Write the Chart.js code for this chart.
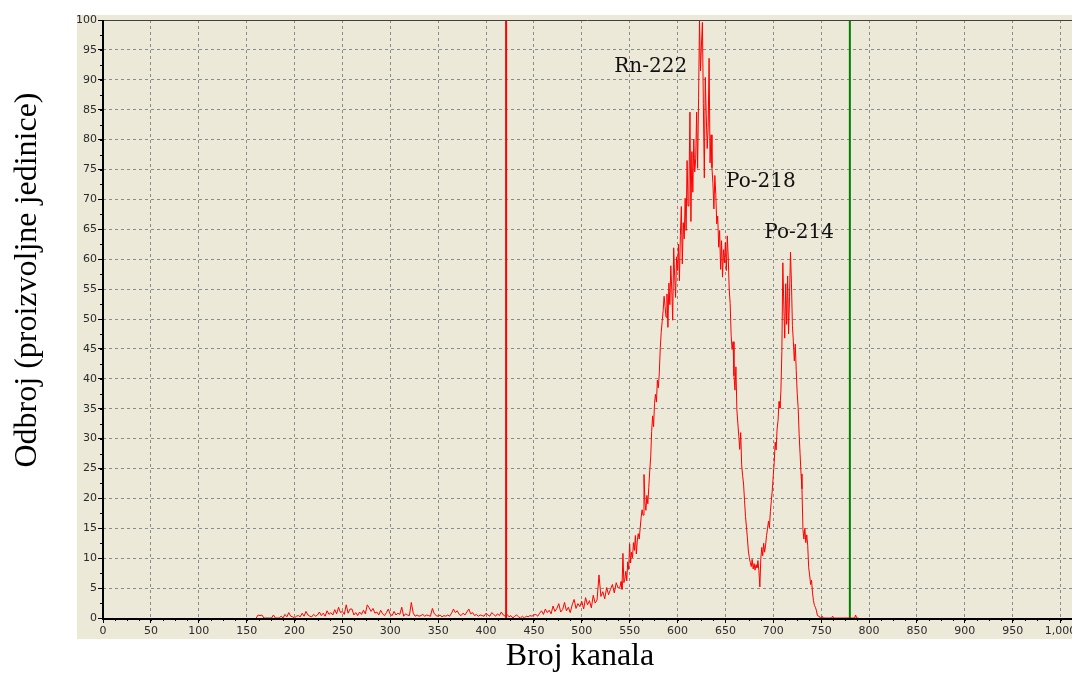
<!DOCTYPE html>
<html lang="sr">
<head>
<meta charset="UTF-8">
<title>Spektar</title>
<script src="https://cdn.jsdelivr.net/npm/chart.js"></script>
<style>
  html, body { margin: 0; padding: 0; background: #fff; }
  canvas { display: block; }
</style>
</head>
<body>
<canvas id="spectrum" width="1072" height="673"></canvas>
<script>
  // low part of the spectrum, every second channel from 160
  const lowStart = 160, lowStep = 2;
  const lowCounts = [
    0, 0.5, 0.4, 0.5, 0, 0, 0, 0, 0, 0.5, 0, 0, 0, 0.3, 0, 0.6, 0.2, 0.9, 0.3, 0.2,
    0, 0.3, 0.4, 0.2, 0.8, 0.3, 1.1, 0.5, 0.3, 0.2, 0.6, 0.3, 0.5, 1.0, 0.4, 0.8, 0.3, 1.2, 0.6, 0.9,
    0.5, 1.4, 0.7, 1.8, 0.9, 1.1, 0.6, 2.2, 0.8, 1.5, 1.5, 0.5, 0.9, 0.4, 1.0, 0.6, 1.3, 0.7, 2.2, 1.7,
    1.1, 1.6, 0.8, 1.0, 0.5, 1.3, 0.7, 0.4, 0.9, 1.5, 0.6, 0.4, 1.1, 0.5, 0.8, 0.6, 1.8, 0.3, 0.7, 0.5,
    0.4, 2.6, 0.8, 0.3, 0.5, 0.3, 0.4, 0.6, 0.3, 0.5, 0.4, 0.3, 1.6, 0.7, 0.4, 0.3, 0.5, 0.2, 0.4, 0.3,
    0.5, 0.3, 0.8, 1.5, 0.9, 1.2, 0.6, 0.4, 0.8, 0.5, 1.0, 1.5, 0.7, 0.9, 0.4, 0.6, 0.3, 0.5, 0.4, 0.3,
    0.8, 0.5, 0.3, 0.9, 0.6, 0.3, 0.7, 0.4, 1.0, 0.5, 0.3, 0.6, 0.2, 0.4, 0, 0.3, 0.5, 0.2, 0, 0.3,
    0, 0.3, 0.2, 0.4, 0.3, 0.5, 0.6, 0.3, 0.8, 1.2, 0.6, 1.5, 0.9, 1.3, 0.7, 2.0, 1.1, 1.6, 2.4, 1.0,
    1.4, 2.6, 1.2, 1.8, 0.9, 2.2, 3.1, 1.6, 2.4, 1.9, 2.8, 1.5, 3.4, 2.2, 2.9, 1.7, 3.8, 2.5, 3.0, 7.2,
    3.6, 4.4, 3.2, 5.1, 3.9, 4.8, 5.6, 4.2, 5.9, 5.0
  ];

  // peak region, one value per channel from 540
  const peakStart = 540;
  const peakCounts = [
    5.2, 6.1, 4.8, 10.8, 5.9, 6.5, 7.8, 6.2, 9.4, 8.1,
    12.4, 9.2, 11.0, 10.1, 12.6, 11.3, 13.8, 10.7, 12.9, 14.1,
    13.2, 15.0, 16.8, 18.1, 17.2, 24.0, 19.4, 18.0, 20.5, 19.1,
    21.8, 24.6, 26.9, 31.2, 33.8, 32.0, 35.9, 37.4, 36.1, 39.8,
    38.5, 41.0, 45.2, 47.8, 49.6, 51.4, 53.8, 52.1, 50.3, 54.2,
    48.6, 56.0, 52.4, 58.9, 55.0, 49.8, 61.9, 57.2, 53.6, 60.4,
    58.1, 62.5, 56.4, 64.0, 68.8, 59.2, 66.1, 63.4, 70.2, 64.8,
    76.5, 68.9, 72.4, 84.6, 66.3, 78.0, 71.2, 80.1, 74.6, 76.8,
    84.6, 75.2, 87.0, 100, 91.5, 95.8, 99.6, 86.0, 73.6, 90.4,
    84.2, 78.5, 82.0, 93.6, 76.1, 80.8, 75.3, 72.6, 68.4, 74.0,
    70.8, 65.9, 67.2, 62.0, 64.8, 58.3, 63.1, 57.0, 61.6, 59.4,
    62.8, 58.1, 63.9, 60.2, 55.0, 52.6, 47.3, 44.9, 46.2, 40.5,
    38.1, 42.0, 34.8, 32.6, 30.4, 28.2, 31.0, 25.6, 23.8, 22.4,
    19.6, 17.0, 15.2, 13.4, 11.2, 10.1, 9.3, 8.6, 9.8, 8.2,
    9.1, 8.0, 8.9, 8.4, 9.6, 7.9, 5.2, 9.9, 11.8, 10.4,
    12.5, 11.0, 12.2, 13.8, 14.9, 16.2, 15.1, 17.8, 19.6, 21.4,
    23.8, 26.0, 29.4, 28.1, 31.6, 33.0, 36.2, 35.1, 38.0, 44.6,
    59.4, 52.3, 46.8, 55.9, 49.1, 57.2, 47.5, 53.8, 61.2, 56.0,
    48.9, 46.2, 43.0, 45.8, 41.4, 37.6, 35.2, 30.8, 27.5, 24.1,
    21.6, 14.8, 13.2, 15.0, 12.6, 13.9, 12.1, 8.4, 7.2, 5.6,
    6.3, 4.2, 2.9, 2.1, 1.8, 1.3, 0.5, 0.3, 0.3, 0,
    0, 0.3, 0, 0, 0, 0, 0, 0, 0, 0,
    0, 0, 0.3, 0, 0, 0, 0, 0, 0, 0,
    0, 0, 0, 0, 0, 0, 0, 0, 0, 0,
    0, 0, 0, 0, 0, 0, 0.5, 0, 0, 0
  ];

  const xTicks = [0, 50, 100, 150, 200, 250, 300, 350, 400, 450, 500,
                  550, 600, 650, 700, 750, 800, 850, 900, 950, 1000];
  const yTicks = [0, 5, 10, 15, 20, 25, 30, 35, 40, 45, 50,
                  55, 60, 65, 70, 75, 80, 85, 90, 95, 100];

  // counting window boundaries (channels)
  const windowLow = 421;
  const windowHigh = 780;

  // isotope names and where they are written (channel, counts)
  const peakNames = ['Rn-222', 'Po-218', 'Po-214'];
  const peakLabelChannel = [572, 687, 727];
  const peakLabelCounts = [92.1, 72.9, 64.4];

  const points = [];
  lowCounts.forEach((v, i) => points.push({ x: lowStart + i * lowStep, y: v }));
  peakCounts.forEach((v, i) => points.push({ x: peakStart + i, y: v }));

  const tickFont = { family: 'DejaVu Sans', size: 11 };

  const panelPlugin = {
    id: 'panel',
    beforeDraw(chart) {
      const ctx = chart.ctx;
      ctx.save();
      ctx.fillStyle = '#ffffff';
      ctx.fillRect(0, 0, chart.width, chart.height);
      ctx.fillStyle = '#ece9d8';
      ctx.fillRect(77, 15, chart.width - 77, 624);
      ctx.restore();
    },
    afterDatasetsDraw(chart) {
      const ctx = chart.ctx;
      const a = chart.chartArea;
      const xs = chart.scales.x, ys = chart.scales.y;
      ctx.save();
      // top frame line
      ctx.strokeStyle = '#404040';
      ctx.lineWidth = 1;
      ctx.beginPath();
      ctx.moveTo(a.left, a.top + 0.5);
      ctx.lineTo(a.right, a.top + 0.5);
      ctx.stroke();
      // minor ticks
      ctx.strokeStyle = '#000';
      ctx.beginPath();
      for (let v = 0; v <= 1012; v += 12.5) {
        const px = Math.round(xs.getPixelForValue(v)) + 0.5;
        ctx.moveTo(px, a.bottom);
        ctx.lineTo(px, a.bottom + 3);
      }
      for (let v = 0; v <= 100; v += 2.5) {
        const py = Math.round(ys.getPixelForValue(v)) + 0.5;
        ctx.moveTo(a.left - 3, py);
        ctx.lineTo(a.left, py);
      }
      ctx.stroke();
      // heavy axes
      ctx.lineWidth = 2;
      ctx.beginPath();
      ctx.moveTo(a.left, a.top);
      ctx.lineTo(a.left, a.bottom + 1);
      ctx.lineTo(a.right, a.bottom + 1);
      ctx.stroke();

      // peak names
      ctx.fillStyle = '#111';
      ctx.font = '20px "DejaVu Serif"';
      ctx.textAlign = 'center';
      ctx.textBaseline = 'middle';
      peakNames.forEach((name, i) => {
        ctx.fillText(name, xs.getPixelForValue(peakLabelChannel[i]), ys.getPixelForValue(peakLabelCounts[i]));
      });

      // axis titles
      ctx.font = '32px "Liberation Serif"';
      ctx.fillStyle = '#000';
      ctx.fillText('Broj kanala', 580, 657);
      ctx.translate(28, 280);
      ctx.rotate(-Math.PI / 2);
      ctx.fillText('Odbroj (proizvoljne jedinice)', 0, 0);
      ctx.restore();
    }
  };

  new Chart(document.getElementById('spectrum'), {
    type: 'scatter',
    data: {
      datasets: [
        {
          data: points,
          showLine: true,
          borderColor: '#ff0000',
          borderWidth: 1,
          pointRadius: 0,
          tension: 0
        },
        {
          data: [{ x: windowLow, y: 0 }, { x: windowLow, y: 100 }],
          showLine: true,
          borderColor: '#ff0000',
          borderWidth: 2,
          pointRadius: 0
        },
        {
          data: [{ x: windowHigh, y: 0 }, { x: windowHigh, y: 100 }],
          showLine: true,
          borderColor: '#008000',
          borderWidth: 2,
          pointRadius: 0
        }
      ]
    },
    options: {
      responsive: false,
      animation: false,
      layout: { padding: { top: 20, left: 0, right: 0, bottom: 0 } },
      plugins: { legend: { display: false }, tooltip: { enabled: false } },
      scales: {
        x: {
          type: 'linear',
          min: 0,
          max: 1012,
          afterFit(s) { s.height = 55; s.paddingLeft = 0; s.paddingRight = 0; },
          afterBuildTicks(s) { s.ticks = xTicks.map(v => ({ value: v })); },
          grid: { color: '#8a8a8a', lineWidth: 1, tickLength: 5, tickColor: '#000' },
          border: { display: false, dash: [3, 3] },
          ticks: {
            font: tickFont,
            color: '#2a2a2a',
            padding: 2,
            maxRotation: 0,
            autoSkip: false,
            callback: v => v.toLocaleString('en-US')
          }
        },
        y: {
          min: 0,
          max: 100,
          afterFit(s) { s.width = 103; s.paddingTop = 0; s.paddingBottom = 0; },
          afterBuildTicks(s) { s.ticks = yTicks.map(v => ({ value: v })); },
          grid: { color: '#8a8a8a', lineWidth: 1, tickLength: 5, tickColor: '#000' },
          border: { display: false, dash: [3, 3] },
          ticks: {
            font: tickFont,
            color: '#2a2a2a',
            padding: 1,
            autoSkip: false
          }
        }
      }
    },
    plugins: [panelPlugin]
  });
</script>
</body>
</html>
